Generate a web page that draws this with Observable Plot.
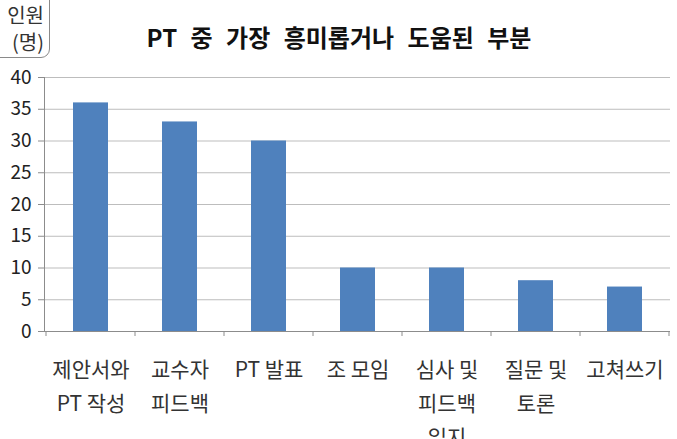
<!DOCTYPE html>
<html><head><meta charset="utf-8">
<script src="https://cdn.jsdelivr.net/npm/d3@7"></script>
<script src="https://cdn.jsdelivr.net/npm/@observablehq/plot@0.6"></script>
<style>
body{margin:0;background:#fff;font-family:"Noto Sans CJK KR","Noto Sans",sans-serif;}
#wrap{position:relative;width:677px;height:439px;overflow:hidden;}
#unit{position:absolute;left:-12px;top:-12px;width:62px;height:70px;border:1px solid #8a8a8a;border-radius:9px;font-size:20px;line-height:27px;color:#333;text-align:right;padding:12px 5px 0 0;box-sizing:border-box;}
#title{position:absolute;left:0;top:23px;width:678px;text-align:center;font-size:24px;font-weight:bold;color:#111;word-spacing:8px;line-height:28px;}
#chart{position:absolute;left:0;top:0;}
</style></head>
<body><div id="wrap"><div id="chart"></div><div id="unit">인원<br>(명)</div><div id="title">PT 중 가장 흥미롭거나 도움된 부분</div></div>
<script>
const categories = ["제안서와\nPT 작성","교수자\n피드백","PT 발표","조 모임","심사 및\n피드백\n일지","질문 및\n토론","고쳐쓰기"];
const values = [36, 33, 30, 10, 10, 8, 7];
const yTicks = [0,5,10,15,20,25,30,35,40];
const data = categories.map((c,i)=>({cat:c, v:values[i]}));

function boundaryTicks(index, scales, values, dims) {
  const x = scales.x, y = scales.y;
  const xs = categories.map(c => x(c));
  const bw = xs[1] - xs[0];
  xs.push(xs[xs.length-1] + bw);
  const y0 = y(0);
  const g = d3.create("svg:g").attr("stroke","#8c8c8c").attr("stroke-width",1);
  xs.forEach(px => g.append("line").attr("x1",px).attr("x2",px).attr("y1",y0).attr("y2",y0+5));
  return g.node();
}

const chart = Plot.plot({
  width: 677, height: 439,
  marginTop: 77, marginBottom: 108, marginLeft: 44, marginRight: 7,
  style: {fontFamily: '"Noto Sans CJK KR","Noto Sans",sans-serif', background: "#fff"},
  x: {domain: categories, padding: 0},
  y: {domain: [0, 40]},
  marks: [
    Plot.gridY(yTicks, {stroke: "#bdbdbd", strokeOpacity: 1}),
    Plot.barY(data, {x: "cat", y: "v", fill: "#4f81bd", insetLeft: 27, insetRight: 27}),
    Plot.ruleY([0], {stroke: "#8c8c8c"}),
    Plot.frame({anchor: "left", stroke: "#8c8c8c"}),
    Plot.axisY(yTicks, {tickSize: 6, tickPadding: 7, fontSize: 19, fill: "#222", stroke: "#8c8c8c", label: null}),
    Plot.axisX({tickSize: 0, tickPadding: 22, fontSize: 21, fill: "#333", lineHeight: 1.6, label: null}),
    boundaryTicks
  ]
});
document.getElementById("chart").appendChild(chart);
</script></body></html>
